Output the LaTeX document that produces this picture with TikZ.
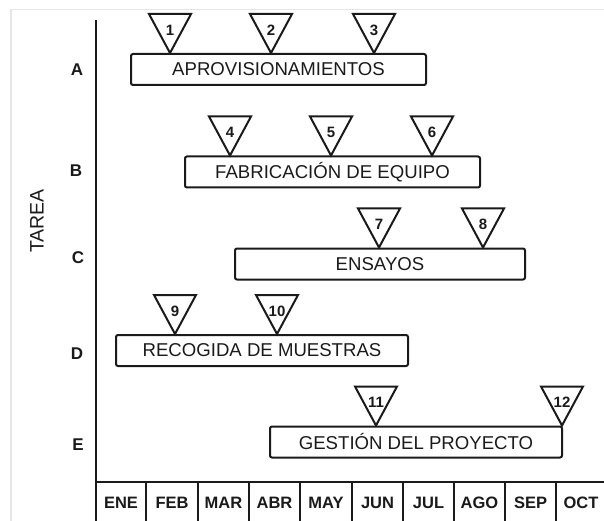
\documentclass[tikz,border=0pt]{standalone}
\usepackage{fontspec}
\setmainfont{Liberation Sans}
\usetikzlibrary{calc}
\definecolor{ink}{HTML}{1A1A1A}
\definecolor{frame}{HTML}{E6E6E6}
\tikzset{
  taskbar/.style={draw=ink, line width=2pt, rounded corners=2pt, minimum height=31pt,
    inner sep=0pt, font=\fontsize{18.6}{18.6}\selectfont, text=ink},
  tri/.style={draw=ink, line width=2pt, line join=miter, fill=white},
  num/.style={font=\fontsize{15}{15}\selectfont\bfseries, text=ink, inner sep=0pt},
  rowlab/.style={font=\fontsize{17}{17}\selectfont\bfseries, text=ink},
  month/.style={font=\fontsize{16.5}{16.5}\selectfont\bfseries, text=ink},
  axis/.style={draw=ink, line width=2.8pt},
  grid/.style={draw=ink, line width=2pt},
}
\begin{document}
\begin{tikzpicture}[x=1pt, y=-1pt]
\useasboundingbox (0,0) rectangle (604,521);
% faint outer frame
\draw[frame, line width=1.5pt] (11,521) -- (11,9.5) -- (604,9.5);

% axes
\coordinate (top) at (96,20);
\coordinate (origin) at (96,482);
\coordinate (right) at (604,482);
\draw[axis] (top) -- (origin) -- (right);

% month scale
\foreach \x in {96,146,198,249,300,352,403,454,505,556}
  \draw[grid] (\x,482) -- (\x,522);
\foreach \m/\x in {ENE/121,FEB/172,MAR/223.5,ABR/274.5,MAY/326,JUN/377.5,JUL/428.5,AGO/479.5,SEP/530.5,OCT/581}
  \node[month] (\m) at (\x,503) {\m};

% axis titles
\node[rotate=90, font=\fontsize{19.5}{19.5}\selectfont, text=ink] (tarea) at (37,221) {TAREA};
\node[rowlab] (rA) at (77,70) {A};
\node[rowlab] (rB) at (76,171) {B};
\node[rowlab] (rC) at (78,258) {C};
\node[rowlab] (rD) at (77,354) {D};
\node[rowlab] (rE) at (78,445) {E};

% task bars
\node[taskbar, minimum width=295pt] (A) at (278.5,69.5) {APROVISIONAMIENTOS};
\node[taskbar, minimum width=295pt] (B) at (332.5,172) {FABRICACIÓN DE EQUIPO};
\node[taskbar, minimum width=290pt] (C) at (380,264) {ENSAYOS};
\node[taskbar, minimum width=292pt] (D) at (262,350.5) {RECOGIDA DE MUESTRAS};
\node[taskbar, minimum width=292pt] (E) at (416,442) {GESTIÓN DEL PROYECTO};

% milestones: apex on the top edge of the bar
\foreach \n/\x/\bar in {1/170/A,2/271/A,3/374/A,4/230/B,5/331/B,6/432/B,7/379/C,8/483/C,9/175/D,10/277/D,11/376/E,12/562/E}{
  \coordinate (t\n) at (\x,0 |- \bar.north);
  \draw[tri] (t\n) -- ++(-21,-39) -- ++(42,0) -- cycle;
  \node[num] (n\n) at ($(t\n)+(0,-23)$) {\n};
}
\end{tikzpicture}
\end{document}
